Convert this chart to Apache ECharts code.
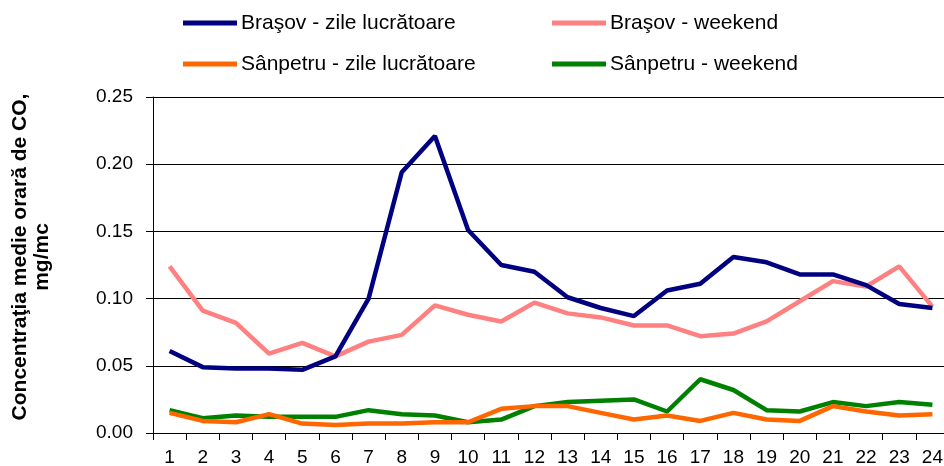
<!DOCTYPE html>
<html><head><meta charset="utf-8">
<script src="https://cdn.jsdelivr.net/npm/echarts@6/dist/echarts.min.js"></script>
<style>html,body{margin:0;padding:0;background:#fff}#c{width:944px;height:466px}</style>
</head><body><div id="c"></div>
<script>
const hours = ['1','2','3','4','5','6','7','8','9','10','11','12','13','14','15','16','17','18','19','20','21','22','23','24'];
const brasovZile = [0.061,0.049,0.048,0.048,0.047,0.057,0.100,0.194,0.221,0.151,0.125,0.120,0.101,0.093,0.087,0.106,0.111,0.131,0.127,0.118,0.118,0.110,0.096,0.093];
const brasovWeekend = [0.124,0.091,0.082,0.059,0.067,0.057,0.068,0.073,0.095,0.088,0.083,0.097,0.089,0.086,0.080,0.080,0.072,0.074,0.083,0.098,0.113,0.109,0.124,0.094];
const sanpetruZile = [0.015,0.009,0.008,0.014,0.007,0.006,0.007,0.007,0.008,0.008,0.018,0.020,0.020,0.015,0.010,0.013,0.009,0.015,0.010,0.009,0.020,0.016,0.013,0.014];
const sanpetruWeekend = [0.017,0.011,0.013,0.012,0.012,0.012,0.017,0.014,0.013,0.008,0.010,0.020,0.023,0.024,0.025,0.016,0.040,0.032,0.017,0.016,0.023,0.020,0.023,0.021];
const names = ['Braşov - zile lucrătoare','Braşov - weekend','Sânpetru - zile lucrătoare','Sânpetru - weekend'];
const colors = ['#000080','#FF8080','#FF6600','#008000'];
const yTitle = 'Concentraţia medie orară de CO,\nmg/mc';

const chart = echarts.init(document.getElementById('c'), null, {renderer:'canvas'});
const font = 'Liberation Sans, Arial, sans-serif';
const legendPos = [[183,12],[552,12],[183,53],[552,53]];
const series = [brasovZile, brasovWeekend, sanpetruZile, sanpetruWeekend].map((d,i)=>({
  name:names[i], type:'line', data:d, symbol:'none', smooth:false,
  lineStyle:{color:colors[i], width:4.5}, itemStyle:{color:colors[i]}, z: 10-i
}));
chart.setOption({
  animation:false,
  textStyle:{fontFamily:font},
  legend: names.map((n,i)=>({
    data:[{name:n, icon:'rect'}], left:legendPos[i][0], top:legendPos[i][1],
    padding:0, itemWidth:54, itemHeight:5, itemGap:4,
    textStyle:{fontSize:21, color:'#000', fontFamily:font, lineHeight:22, padding:[0,0,0,-1]},
    selectedMode:false
  })),
  grid:{left:153, right:-5, top:97, bottom:33, containLabel:false, outerBoundsMode:'none'},
  graphic:[{
    type:'text', x:31, y:257, rotation:Math.PI/2,
    style:{text:yTitle, font:'bold 21px Liberation Sans, Arial, sans-serif', fill:'#000',
      align:'center', verticalAlign:'middle', lineHeight:22}
  }],
  xAxis:{
    type:'category', data:hours, boundaryGap:true,
    axisLine:{show:true, onZero:false, lineStyle:{color:'#000', width:1}},
    axisTick:{show:true, length:7, lineStyle:{color:'#000'}},
    axisLabel:{color:'#000', fontSize:19, margin:15, fontFamily:font, interval:0}
  },
  yAxis:{
    type:'value', min:0, max:0.25, interval:0.05,
    axisLine:{show:true, onZero:false, lineStyle:{color:'#000', width:1}},
    axisTick:{show:true, length:7, inside:false, lineStyle:{color:'#000'}},
    axisLabel:{color:'#000', fontSize:19, margin:20, fontFamily:font, formatter:v=>v.toFixed(2)},
    splitLine:{show:true, lineStyle:{color:'#000', width:1}}
  },
  series
});
</script></body></html>
